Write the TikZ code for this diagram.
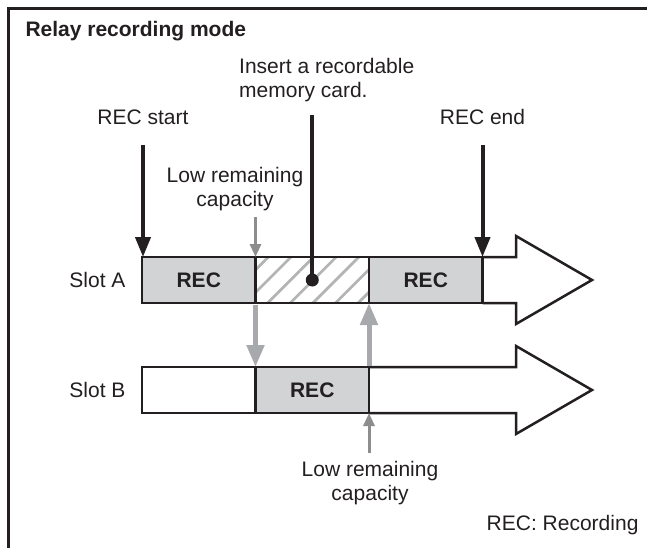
\documentclass[tikz,border=0pt]{standalone}
\usepackage{fontspec}
\setmainfont{Liberation Sans}
\usetikzlibrary{arrows.meta,patterns.meta,positioning}

\definecolor{ink}{HTML}{231F20}
\definecolor{recfill}{HTML}{D1D3D4}
\definecolor{hatchgrey}{HTML}{B3B4B6}
\definecolor{midgrey}{HTML}{8C8D8F}
\definecolor{softgrey}{HTML}{A7A9AC}

\begin{document}
\begin{tikzpicture}[x=1pt,y=-1pt,font=\fontsize{21}{24}\selectfont,text=ink,
  segbox/.style={draw=ink,line width=2.5pt,minimum height=46pt,minimum width=113.5pt,
    inner sep=0pt,outer sep=0pt,font=\fontsize{21}{24}\selectfont\bfseries},
  recbox/.style={segbox,fill=recfill},
  hatchbox/.style={segbox,pattern={Lines[angle=45,distance=16pt,line width=2.8pt]},
    pattern color=hatchgrey},
  inkarrow/.style={draw=ink,line width=4pt,-{Triangle[width=15pt,length=20pt]}},
  greyarrow/.style={draw=midgrey,line width=3pt,-{Triangle[width=11pt,length=13pt]}},
  widegrey/.style={draw=softgrey,line width=5pt,-{Triangle[width=17pt,length=22pt]},
    shorten <=1.5pt},
  outline/.style={draw=ink,line width=2.5pt,line join=miter}]
 \useasboundingbox (0,0) rectangle (647,548);
 \draw[ink,line width=2.5pt] (8.5,548) -- (8.5,8.5) -- (647,8.5);
 \node[anchor=base west,font=\fontsize{21}{24}\selectfont\bfseries] (title) at (22,37)
   {Relay recording mode};
 % slot A
 \node[recbox,anchor=west] (recA1) at (142,280) {REC};
 \node[hatchbox,right=0pt of recA1] (cardA) {};
 \node[recbox,right=0pt of cardA] (recA2) {REC};
 % slot B
 \node[segbox,anchor=west] (blankB) at (142,390) {};
 \node[recbox,right=0pt of blankB] (recB) {REC};
 \foreach \s/\y in {recA2/280,recB/390}
   {\draw[outline] (\s.north east) -- (516,\y-23) -- (516,\y-44) -- (592,\y)
      -- (516,\y+44) -- (516,\y+23) -- (\s.south east);}
 \foreach \n/\t/\y in {slotA/Slot A/287.5,slotB/Slot B/397.5}
   {\node[anchor=base east] (\n) at (129,\y) {\t};}
 % labels
 \node[anchor=base] (startlbl) at (143,125) {REC start};
 \node[anchor=base] (endlbl) at (482.5,125) {REC end};
 \node[anchor=north west,align=left,inner sep=0pt] (cardlbl) at (239,58)
   {Insert a recordable\\memory card.};
 \node[anchor=north,align=center,inner sep=0pt] (lowA) at (235,167)
   {Low remaining\\capacity};
 \node[anchor=north,align=center,inner sep=0pt] (lowB) at (370,461)
   {Low remaining\\capacity};
 \node[anchor=base east] (legend) at (642,530) {REC: Recording};
 % arrows
 \coordinate (startTop) at (143,145);
 \coordinate (endTop) at (482.5,145);
 \coordinate (cardTop) at (312.25,115);
 \coordinate (lowATop) at (255.5,217);
 \coordinate (lowBBot) at (369,453);
 \draw[inkarrow] (startTop) -- (startTop |- recA1.north);
 \draw[inkarrow] (endTop) -- (recA2.north east);
 \node[circle,fill=ink,inner sep=0pt,minimum size=13pt] (dot) at (cardA.center) {};
 \draw[ink,line width=4pt] (cardTop) -- (dot.center);
 \draw[greyarrow] (lowATop) -- (recA1.north east);
 \draw[greyarrow] (lowBBot) -- (recB.south east);
 \draw[widegrey] (recA1.south east) -- (recB.north west);
 \draw[widegrey] (recB.north east) -- (recA2.south west);
\end{tikzpicture}
\end{document}
